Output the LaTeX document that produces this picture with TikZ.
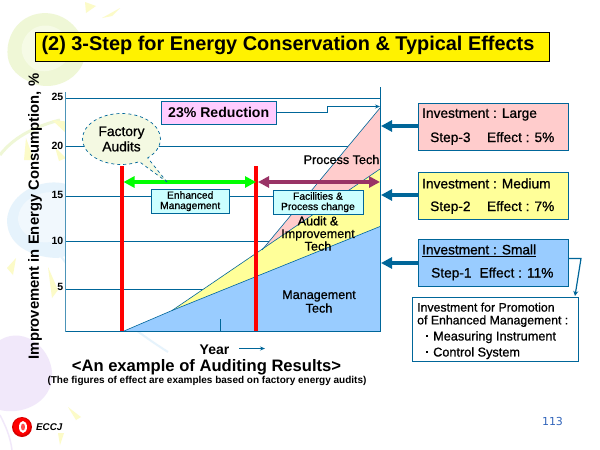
\documentclass[tikz,border=0pt]{standalone}
\usepackage{fontspec}
\setmainfont{Liberation Sans}
\newfontfamily\medfont[FakeBold=0.8]{Liberation Sans}
\newfontfamily\pagefont{DejaVu Sans}
\usetikzlibrary{arrows.meta,shapes.callouts}
\definecolor{lineblue}{HTML}{006699}
\definecolor{fillpink}{HTML}{FFCCCC}
\definecolor{fillyellow}{HTML}{FFFF99}
\definecolor{fillblue}{HTML}{99CCFF}
\definecolor{fillcyan}{HTML}{CCFFFF}
\definecolor{fillmag}{HTML}{FFCCFF}
\definecolor{purplearrow}{HTML}{993366}
\definecolor{decgreen}{HTML}{EFF7D6}
\definecolor{decgreenin}{HTML}{F6FBE6}
\definecolor{decblue}{HTML}{E6F3FC}
\definecolor{decbluein}{HTML}{F1F8FD}
\definecolor{declav}{HTML}{F1E8FA}
\definecolor{decyellow}{HTML}{FCFBC8}
\definecolor{pagecol}{HTML}{3366BB}
\newcommand{\fsz}[1]{\fontsize{#1}{#1}\selectfont}
\tikzset{
  x=1pt,y=-1pt,
  grid/.style={draw=lineblue,line width=0.8pt},
  region/.style={draw=lineblue,line width=0.6pt},
  redbar/.style={draw=red,line width=4.2pt},
  bigarrow/.style={line width=3.2pt,-{Triangle[length=11pt,width=11pt]},draw=lineblue},
  dblarrow/.style={line width=3.4pt,{Triangle[length=11pt,width=11pt]}-{Triangle[length=11pt,width=11pt]}},
  thinarrow/.style={draw=lineblue,line width=0.8pt,-{Stealth[length=5pt,width=4pt]}},
  infobox/.style={draw=lineblue,line width=0.9pt,anchor=north west,inner sep=0pt,minimum width=150pt,minimum height=47pt},
  smallbox/.style={draw=lineblue,line width=0.9pt,fill=fillcyan,align=center,inner sep=0pt,font=\fsz{10.3}\medfont},
  ylab/.style={font=\fsz{10.5}\bfseries,anchor=east,inner sep=0pt},
  regionlab/.style={font=\fsz{12.6}\medfont,align=center,inner sep=0pt},
  boxtext/.style={font=\fsz{13.7}\medfont,anchor=west,inner sep=0pt},
  promotext/.style={font=\fsz{12.7}\medfont,anchor=west,inner sep=0pt},
  promohead/.style={font=\fsz{12.3}\medfont,anchor=west,inner sep=0pt},
  deco/.style={fill=decyellow,draw=none}
}
\begin{document}
\begin{tikzpicture}
\useasboundingbox (0,0) rectangle (600,450);
\fill[white] (0,0) rectangle (600,450);
% background decoration
\fill[decgreen] (8,45) .. controls (15,5) and (70,0) .. (85,45) .. controls (90,75) and (55,95) .. (30,82) .. controls (15,75) and (5,65) .. (8,45);
\fill[decgreenin] (22,45) .. controls (28,20) and (60,18) .. (72,45) .. controls (72,65) and (50,75) .. (36,70) .. controls (26,65) and (20,55) .. (22,45);
\draw[decgreen,line width=3pt] (0,155) .. controls (15,135) and (40,125) .. (60,120);
\fill[decblue] (7,220) .. controls (10,180) and (80,165) .. (90,210) .. controls (92,235) and (75,250) .. (73,254) -- (58,258) .. controls (40,258) and (7,250) .. (7,220);
\fill[decbluein] (18,218) .. controls (20,190) and (70,180) .. (78,212) .. controls (78,235) and (50,248) .. (35,240) .. controls (25,235) and (18,228) .. (18,218);
\draw[decblue,line width=2pt] (60,255) .. controls (85,290) and (125,325) .. (168,352);
\fill[declav] (0,340) .. controls (25,325) and (55,350) .. (52,380) .. controls (48,405) and (20,415) .. (0,410) -- cycle;
\draw[declav,line width=1.5pt] (0,415) .. controls (5,425) and (10,435) .. (12,450);
\fill[deco] (85,2) -- (96,6) -- (86,13) -- cycle;
\fill[deco] (102,18) -- (120,8) -- (112,16) -- cycle;
\fill[deco] (52,120) -- (71,122) -- (66,133) -- cycle;
\fill[deco] (26,138) -- (34,160) -- (24,160) -- cycle;
\fill[deco] (55,147) -- (66,158) -- (59,161) -- cycle;
\fill[deco] (16,258) -- (7,268) -- (13,275) -- cycle;
\fill[deco] (48,267) -- (58,290) -- (52,298) -- cycle;
\fill[deco] (68,407) -- (81,417) -- (76,420) -- cycle;
\fill[deco] (58,433) -- (64,433) -- (60,445) -- cycle;
% plot background
\fill[white] (65.5,92) rectangle (380.5,331.5);
% title
\node[draw=black,line width=0.8pt,fill=yellow,anchor=north west,minimum width=514pt,minimum height=29pt,inner sep=0pt] (title) at (34.5,31.5) {};
\node[font=\fsz{19.9}\bfseries,inner sep=0pt] (titletext) at (288,45.5) {(2) 3-Step for Energy Conservation \& Typical Effects};
% grid
\foreach \yy/\ly/\lab in {98.5/97.3/25,146.5/146/20,196.5/195/15,241.5/241/10,289.5/287/5}{
  \draw[grid] (65.5,\yy) -- (380,\yy);
  \node[ylab] at (63.5,\ly) {\lab};
}
% regions
\fill[fillpink] (262,250) -- (380,108) -- (380,169) -- cycle;
\fill[fillyellow] (172,310.5) -- (380,169) -- (380,226.5) -- cycle;
\fill[fillblue] (124,331) -- (172,310.5) -- (380,226.5) -- (380,331) -- cycle;
\draw[region] (262,250) -- (380,108);
\draw[region] (172,310.5) -- (380,169);
\draw[region] (124,331) -- (172,310.5) -- (380,226.5);
% axes
\coordinate (axtop) at (65.5,92);
\coordinate (axorigin) at (65.5,331.5);
\coordinate (axright) at (380.5,331.5);
\coordinate (axrtop) at (380.5,87);
\draw[draw=lineblue!70,line width=1.2pt] (axtop) -- (axorigin);
\draw[grid,line width=1pt] (axorigin) -- (axright) -- (axrtop);
\coordinate (ticktop) at (220,319); \coordinate (tickbot) at (220,331);
\draw[grid] (ticktop) -- (tickbot);
% axis titles
\node[font=\fsz{14.8}\bfseries,rotate=90,inner sep=0pt] (ylabel) at (35,216.5) {Improvement in Energy Consumption, \%};
\node[font=\fsz{14}\bfseries,inner sep=0pt] (yearlab) at (214.5,350) {Year};
\coordinate (yeartip) at (265,348.5);
\coordinate (yearstart) at (239,348.5);
\draw[thinarrow] (yearstart) -- (yeartip);
\node[font=\fsz{16.6}\bfseries,inner sep=0pt] (capt) at (206.5,367) {<An example of Auditing Results>};
\node[font=\fsz{10}\bfseries,inner sep=0pt] (capb) at (207,381) {(The figures of effect are examples based on factory energy audits)};
% red bars
\coordinate (r1t) at (122,166); \coordinate (r1b) at (122,331);
\coordinate (r2t) at (256,166); \coordinate (r2b) at (256,331);
\draw[redbar] (r1t) -- (r1b);
\draw[redbar] (r2t) -- (r2b);
% double arrows
\coordinate (ga) at (123.5,182); \coordinate (gb) at (256,182); \coordinate (pb) at (380,182); \coordinate (pa) at (258,182);
\draw[dblarrow,color=green] (ga) -- (gb);
\draw[dblarrow,color=purplearrow] (pa) -- (pb);
% small boxes
\node[smallbox,anchor=north west,minimum width=78.5pt,minimum height=24.5pt] (enh) at (150.5,188.5) {Enhanced\\Management};
\node[smallbox,anchor=north west,minimum width=90pt,minimum height=24.5pt] (fac) at (272.5,189.5) {Facilities \&\\Process change};
% callout
\node[ellipse callout,draw=lineblue,dashed,line width=0.7pt,fill=decgreen!70!white,minimum width=78pt,minimum height=51pt,inner sep=0pt,callout absolute pointer={(167,182)},callout pointer width=18pt,align=center,font=\fsz{13.8}\medfont] (audit) at (121.5,139) {Factory\\[1.5pt]Audits};
% reduction box
\node[draw=lineblue,line width=0.9pt,fill=fillmag,anchor=north west,minimum width=115.5pt,minimum height=23pt,inner sep=0pt,font=\fsz{14.1}\bfseries] (red) at (160.5,100.5) {23\% Reduction};
\coordinate (redend) at (380,106.5);
\coordinate (redjog) at (327.5,106.5);
\draw[thinarrow] (red.east) -| (redjog) -- (redend);
% region labels
\node[regionlab] (ptech) at (341.5,159.5) {Process Tech};
\node[regionlab] (atech) at (318,233.5) {Audit \&\\Improvement\\Tech};
\node[regionlab] (mtech) at (319,301.5) {Management\\[1pt]Tech};
% right boxes
\node[infobox,fill=fillpink] (large) at (417.5,102.5) {};
\node[boxtext] (l1) at (422,114.5) {Investment : Large};
\node[boxtext] (l2) at (430,138.5) {Step-3\hspace{16.5pt}Effect : 5\%};
\node[infobox,fill=fillyellow] (medium) at (417.5,171.5) {};
\node[boxtext] (m1) at (422,183.5) {Investment : Medium};
\node[boxtext] (m2) at (430,207.5) {Step-2\hspace{16.5pt}Effect : 7\%};
\node[infobox,fill=fillblue] (small) at (417.5,238.5) {};
\node[boxtext] (s1) at (422,250.5) {\underline{Investment : Small}};
\node[boxtext] (s2) at (431,274) {Step-1\hspace{8pt}Effect : 11\%};
% thick arrows
\coordinate (la) at (381,126); \coordinate (ma) at (381,195); \coordinate (sa) at (381,263);
\draw[bigarrow] (large.west |- la) -- (la);
\draw[bigarrow] (medium.west |- ma) -- (ma);
\draw[bigarrow] (small.west |- sa) -- (sa);
% investment box
\node[draw=lineblue,line width=0.9pt,fill=white,anchor=north west,minimum width=166pt,minimum height=64pt,inner sep=0pt] (promo) at (411.5,297) {};
\node[promohead] (p1) at (417,307.2) {Investment for Promotion};
\node[promohead] (p2) at (417,321.2) {of Enhanced Management :};
\node[promotext] (p3) at (433,337.2) {Measuring Instrument};
\node[promotext] (p4) at (433,353.2) {Control System};
\fill[black] (425.5,335) rectangle (428,337);
\fill[black] (425.5,351) rectangle (428,353);
\coordinate (jog) at (581,258.5);
\coordinate (promotip) at (575,296);
\draw[draw=lineblue,line width=1.2pt,-{Stealth[length=5pt,width=5pt]}] (small.east |- jog) -- (jog) -- (promotip);
% footer
\node[font=\fsz{11}\pagefont,text=pagecol,inner sep=0pt] (pg) at (552.5,421) {113};
\fill[red!85!black] (22,427) circle (10);
\fill[red] (22,426.5) circle (8.5);
\fill[white] (23,427) ellipse (4 and 6);
\fill[red!70!white] (23,427) ellipse (2 and 3.5);
\node[font=\fsz{9.8}\bfseries\itshape,anchor=west,inner sep=0pt] (eccj) at (36,427) {ECCJ};
\end{tikzpicture}
\end{document}
